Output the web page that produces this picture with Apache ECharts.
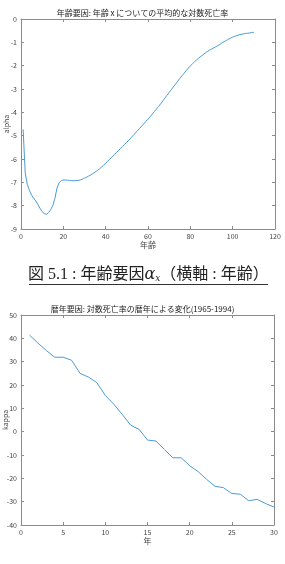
<!DOCTYPE html>
<html>
<head>
<meta charset="utf-8">
<script src="https://cdn.jsdelivr.net/npm/echarts@6/dist/echarts.min.js"></script>
<style>
  html, body { margin: 0; padding: 0; background: #fff; }
  #chart { width: 285px; height: 564px; }
</style>
</head>
<body>
<div id="chart"></div>
<script>
  // 年齢 1..110 に対する alpha
  var ages = [];
  for (var i = 1; i <= 110; i++) ages.push(i);
  var alpha = [
    -4.73, -6.6, -7.1, -7.35, -7.55, -7.68, -7.8, -7.95, -8.12, -8.26,
    -8.34, -8.37, -8.3, -8.17, -8.0, -7.7, -7.25, -7.02, -6.93, -6.9,
    -6.9, -6.91, -6.92, -6.93, -6.93, -6.93, -6.92, -6.9, -6.87, -6.82,
    -6.78, -6.73, -6.68, -6.62, -6.56, -6.5, -6.43, -6.35, -6.27, -6.18,
    -6.09, -6.0, -5.91, -5.82, -5.73, -5.64, -5.55, -5.46, -5.37, -5.28,
    -5.19, -5.09, -4.99, -4.89, -4.79, -4.69, -4.59, -4.49, -4.39, -4.29,
    -4.19, -4.08, -3.97, -3.86, -3.75, -3.63, -3.51, -3.39, -3.27, -3.15,
    -3.03, -2.91, -2.79, -2.67, -2.55, -2.44, -2.33, -2.22, -2.11, -2.01,
    -1.92, -1.83, -1.75, -1.67, -1.6, -1.53, -1.46, -1.4, -1.34, -1.29,
    -1.24, -1.19, -1.14, -1.09, -1.02, -0.97, -0.92, -0.87, -0.82, -0.78,
    -0.74, -0.71, -0.68, -0.66, -0.64, -0.62, -0.61, -0.6, -0.58, -0.57
  ];

  // 年 1..30 に対する kappa
  var years = [];
  for (var j = 1; j <= 30; j++) years.push(j);
  var kappa = [
    41.4, 38.0, 34.8, 31.9, 31.9, 30.6, 25.0, 23.4, 21.0, 15.5,
    11.8, 7.4, 2.8, 1.0, -3.6, -4.0, -7.6, -11.2, -11.2, -14.6,
    -17.1, -20.4, -23.4, -24.0, -26.5, -26.8, -29.6, -29.0, -30.8, -32.3
  ];

  var title1 = "年齢要因: 年齢 x についての平均的な対数死亡率";
  var title2 = "暦年要因: 対数死亡率の暦年による変化(1965-1994)";

  var font = "Noto Sans CJK JP";
  var axisColor = "#8c8c8c";
  var labelColor = "#444";
  var lineColor = "#4a9bd6";

  function pairs(xs, ys) {
    return xs.map(function (x, k) { return [x, ys[k]]; });
  }

  function mainAxis(extra) {
    var base = {
      axisLine: { show: true, onZero: false, lineStyle: { color: axisColor, width: 1 } },
      axisTick: { show: true, inside: true, length: 3, lineStyle: { color: axisColor } },
      axisLabel: { color: labelColor, fontSize: 7, fontFamily: font, margin: 4 },
      splitLine: { show: false },
      nameMoveOverlap: false,
      nameTextStyle: { color: labelColor, fontSize: 8, fontFamily: font }
    };
    return Object.assign(base, extra);
  }

  function mirrorAxis(extra) {
    var base = {
      axisLine: { show: true, onZero: false, lineStyle: { color: axisColor, width: 1 } },
      axisTick: { show: true, inside: true, length: 3, lineStyle: { color: axisColor } },
      axisLabel: { show: false },
      splitLine: { show: false }
    };
    return Object.assign(base, extra);
  }

  var yName = { color: labelColor, fontSize: 7, fontFamily: font };

  var chart = echarts.init(document.getElementById("chart"), null, { renderer: "canvas" });

  chart.setOption({
    animation: false,
    title: [
      { text: title1, left: "center", top: 4, textStyle: { fontSize: 8, fontWeight: "normal", color: "#222", fontFamily: font } },
      { text: title2, left: "center", top: 300, textStyle: { fontSize: 8, fontWeight: "normal", color: "#222", fontFamily: font } }
    ],
    grid: [
      { left: 21, top: 19, right: 10, height: 210, containLabel: false, outerBoundsMode: "none" },
      { left: 21, top: 315, right: 11, height: 210, containLabel: false, outerBoundsMode: "none" }
    ],
    xAxis: [
      mainAxis({ type: "value", gridIndex: 0, min: 0, max: 120, interval: 20, name: "年齢", nameLocation: "middle", nameGap: 12 }),
      mirrorAxis({ type: "value", gridIndex: 0, min: 0, max: 120, interval: 20, position: "top" }),
      mainAxis({ type: "value", gridIndex: 1, min: 0, max: 30, interval: 5, name: "年", nameLocation: "middle", nameGap: 12 }),
      mirrorAxis({ type: "value", gridIndex: 1, min: 0, max: 30, interval: 5, position: "top" })
    ],
    yAxis: [
      mainAxis({ type: "value", gridIndex: 0, min: -9, max: 0, interval: 1, name: "alpha", nameLocation: "middle", nameGap: 11, nameTextStyle: yName }),
      mirrorAxis({ type: "value", gridIndex: 0, min: -9, max: 0, interval: 1, position: "right" }),
      mainAxis({ type: "value", gridIndex: 1, min: -40, max: 50, interval: 10, name: "kappa", nameLocation: "middle", nameGap: 12, nameTextStyle: yName }),
      mirrorAxis({ type: "value", gridIndex: 1, min: -40, max: 50, interval: 10, position: "right" })
    ],
    series: [
      {
        type: "line", xAxisIndex: 0, yAxisIndex: 0, data: pairs(ages, alpha),
        showSymbol: false, smooth: false, lineStyle: { color: lineColor, width: 1 }
      },
      {
        type: "line", xAxisIndex: 2, yAxisIndex: 2, data: pairs(years, kappa),
        showSymbol: false, smooth: false, lineStyle: { color: lineColor, width: 1 }
      }
    ],
    graphic: [
      {
        type: "text", left: 28, top: 267,
        style: {
          text: "{a|図 5.1 : 年齢要因}{b|α}{c|x}{a|（横軸 : 年齢）}",
          rich: {
            a: { fontSize: 16, fontFamily: "Liberation Serif, Noto Sans CJK JP", fill: "#222" },
            b: { fontSize: 16, fontFamily: "DejaVu Serif", fontStyle: "italic", fill: "#222" },
            c: { fontSize: 9, fontFamily: "DejaVu Serif", fontStyle: "italic", fill: "#222", padding: [8, 0, 0, 0] }
          }
        }
      },
      {
        type: "line", shape: { x1: 29, y1: 284.5, x2: 268, y2: 284.5 },
        style: { stroke: "#333", lineWidth: 1 }
      }
    ]
  });
</script>
</body>
</html>
